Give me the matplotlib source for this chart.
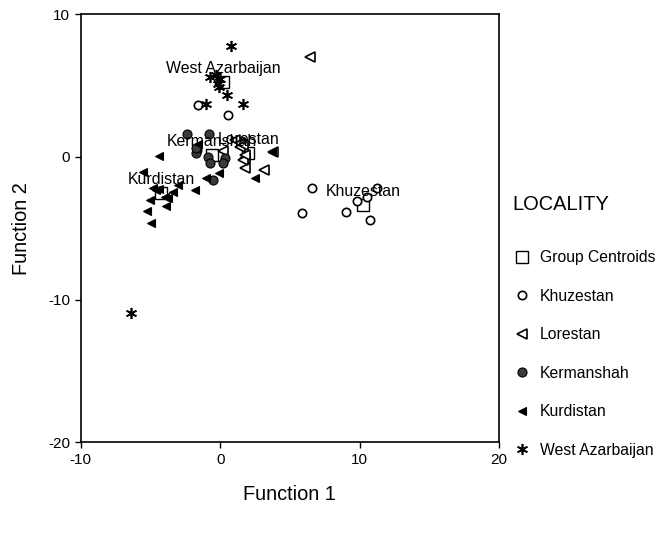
import matplotlib
matplotlib.use("Agg")
import matplotlib.pyplot as plt

plt.rcParams['font.family'] = ['Liberation Sans', 'DejaVu Sans']
plt.rcParams['axes.unicode_minus'] = False

# Canonical discriminant function scores
khuzestan_f1 = [6.56, 11.22, 9.83, 10.50, 5.84, 9.02, 10.74, -1.58, 0.57]
khuzestan_f2 = [-2.17, -2.22, -3.10, -2.80, -3.97, -3.85, -4.43, 3.66, 2.91]

lorestan_f1 = [6.44, 0.22, 1.77, 1.77, 3.13, 3.80, 1.41, 1.65, 1.05, 1.41, 1.65, 1.77]
lorestan_f2 = [7.00, 0.39, -0.12, -0.82, -0.94, 0.35, 0.70, -0.24, 1.16, 0.93, 0.81, 0.11]

kermanshah_f1 = [-2.41, -0.79, -1.65, -1.74, -0.86, -0.74, 0.34, 0.22, -0.50, -1.74]
kermanshah_f2 = [1.63, 1.63, 0.46, 0.23, 0.00, -0.47, -0.12, -0.47, -1.64, 0.58]

kurdistan_f1 = [-4.38, -1.62, -0.98, -0.07, 2.49, -1.81, -3.01, -3.37, -4.83, -4.58,
                -4.35, -3.97, -3.73, -5.00, -3.85, -5.26, -4.95, -5.52, 3.70]
kurdistan_f2 = [0.07, 0.86, -1.47, -1.17, -1.47, -2.34, -1.98, -2.45, -2.22, -2.34,
                -2.27, -2.80, -2.92, -3.03, -3.43, -3.80, -4.66, -1.05, 0.30]

west_az_f1 = [0.77, -0.74, -0.31, -0.02, -0.14, -0.07, 0.50, 1.65, -0.98, -6.41]
west_az_f2 = [7.76, 5.59, 5.76, 5.48, 5.13, 4.90, 4.36, 3.73, 3.73, -10.96]

centroid_names = ["Khuzestan", "Lorestan", "Kermanshah", "Kurdistan", "West Azarbaijan"]
centroid_f1 = [10.26, 2.02, -0.61, -4.21, 0.22]
centroid_f2 = [-3.38, 0.24, 0.13, -2.57, 5.24]

fig = plt.figure(figsize=(6.6, 5.35), dpi=100)
ax = fig.add_axes([0.1223, 0.1733, 0.6337, 0.8005])

h_cent, = ax.plot(centroid_f1, centroid_f2, ls='none', marker='s', ms=8.5,
                  mfc='none', mec='black', mew=1.0)
h_khu, = ax.plot(khuzestan_f1, khuzestan_f2, ls='none', marker='o', ms=6,
                 mfc='white', mec='black', mew=1.2)
h_lor, = ax.plot(lorestan_f1, lorestan_f2, ls='none', marker='<', ms=6.5,
                 mfc='white', mec='black', mew=1.2)
h_ker, = ax.plot(kermanshah_f1, kermanshah_f2, ls='none', marker='o', ms=6.5,
                 mfc='#3a3a3a', mec='black', mew=0.8)
h_kur, = ax.plot(kurdistan_f1, kurdistan_f2, ls='none', marker='<', ms=6,
                 mfc='black', mec='black', mew=0.8)
h_wa, = ax.plot(west_az_f1, west_az_f2, ls='none', marker=(6, 2, 0), ms=8,
                mfc='black', mec='black', mew=1.2)

for name, x, y in zip(centroid_names, centroid_f1, centroid_f2):
    ax.annotate(name, (x, y), xytext=(0, 10), textcoords='offset points',
                ha='center', va='center', fontsize=11.4)

ax.set_xlim(-10, 20)
ax.set_ylim(-20, 10)
ax.set_xticks([-10, 0, 10, 20])
ax.set_yticks([-20, -10, 0, 10])
ax.tick_params(direction='out', length=4, width=1, labelsize=11, top=False, right=False)
for sp in ax.spines.values():
    sp.set_linewidth(1.2)

ax.set_xlabel("Function 1", fontsize=14.4)
ax.set_ylabel("Function 2", fontsize=14.4)
ax.xaxis.set_label_coords(0.5, -0.10)
ax.yaxis.set_label_coords(-0.12, 0.5)

fig.text(512 / 660, 1 - 205 / 535, "LOCALITY", fontsize=14.4, ha='left', va='center')
fig.legend([h_cent, h_khu, h_lor, h_ker, h_kur, h_wa],
           ["Group Centroids"] + centroid_names,
           loc='upper left', bbox_to_anchor=(507 / 660, 1 - 244 / 535),
           frameon=False, fontsize=11.3, borderaxespad=0,
           labelspacing=1.5, handletextpad=0.55, handlelength=1.15)

fig.savefig("out.png", dpi=100)
